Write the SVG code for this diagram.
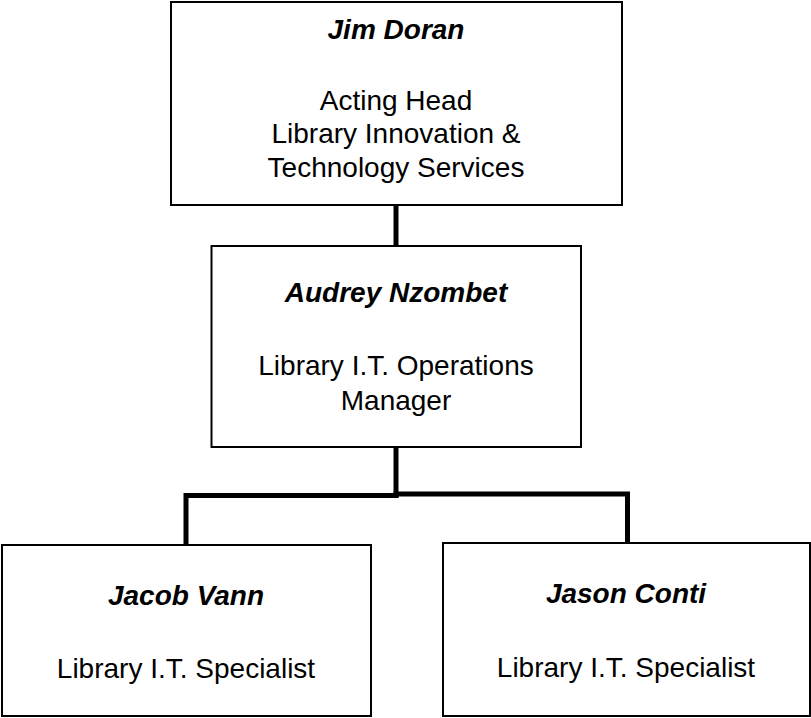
<svg xmlns="http://www.w3.org/2000/svg" width="811" height="718" viewBox="0 0 811 718">
<style>
.box{fill:#fff;stroke:#000;stroke-width:2}
.conn{fill:none;stroke:#000;stroke-width:5;stroke-linecap:square}
text{font-family:"Liberation Sans",Arial,sans-serif;font-size:28px;fill:#000;text-anchor:middle}
.name{font-weight:bold;font-style:italic}
</style>
<rect width="811" height="718" fill="#fff"/>
<g id="connectors">
<line class="conn" x1="396" y1="206" x2="396" y2="245"/>
<line class="conn" x1="396" y1="448" x2="396" y2="495"/>
<polyline class="conn" points="396,495.5 186,495.5 186,543"/>
<polyline class="conn" points="396,494 627.5,494 627.5,541"/>
</g>
<g id="jim-doran">
<rect class="box" x="171" y="2" width="451" height="203"/>
<text class="name" x="396" y="39">Jim Doran</text>
<text x="396" y="110">Acting Head</text>
<text x="396" y="143">Library Innovation &amp;</text>
<text x="396" y="177">Technology Services</text>
</g>
<g id="audrey-nzombet">
<rect class="box" x="211.5" y="246" width="369.5" height="201"/>
<text class="name" x="396" y="302">Audrey Nzombet</text>
<text x="396" y="375">Library I.T. Operations</text>
<text x="396" y="410">Manager</text>
</g>
<g id="jacob-vann">
<rect class="box" x="2" y="545" width="369" height="171"/>
<text class="name" x="186" y="605">Jacob Vann</text>
<text x="186" y="678">Library I.T. Specialist</text>
</g>
<g id="jason-conti">
<rect class="box" x="443" y="543" width="367" height="173"/>
<text class="name" x="626" y="603">Jason Conti</text>
<text x="626" y="677">Library I.T. Specialist</text>
</g>
</svg>
